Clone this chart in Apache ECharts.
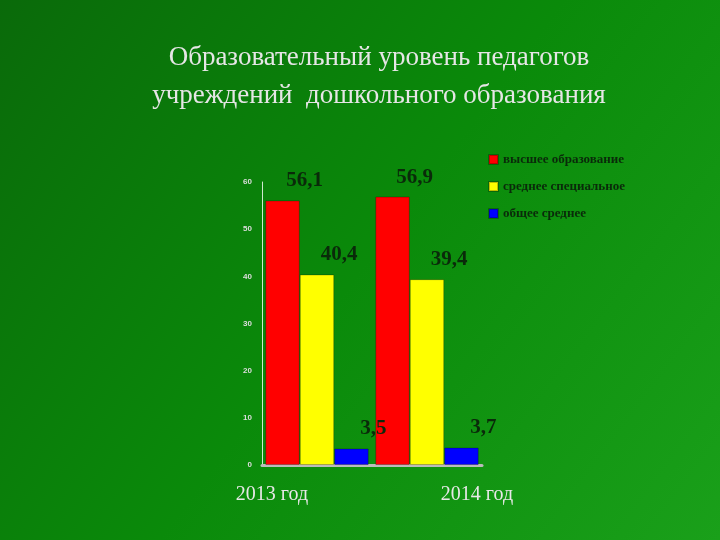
<!DOCTYPE html>
<html><head><meta charset="utf-8">
<script src="https://cdn.jsdelivr.net/npm/echarts@6/dist/echarts.min.js"></script>
<style>html,body{margin:0;padding:0;}#c{width:720px;height:540px;}</style>
</head><body><div id="c"></div>
<script>
const categories = ['2013 год', '2014 год'];
const higher = [56.1, 56.9];
const specialSecondary = [40.4, 39.4];
const generalSecondary = [3.5, 3.7];
const seriesNames = ['высшее образование', 'среднее специальное', 'общее среднее'];
const colors = ['#ff0000', '#ffff00', '#0000ff'];
const yTicks = [0, 10, 20, 30, 40, 50, 60];

const chart = echarts.init(document.getElementById('c'));
const fmt = p => String(p.value).replace('.', ',');
function mk(name, data, color) {
  return {
    name, type: 'bar', data, barGap: '0%', barCategoryGap: '6%',
    itemStyle: { color, borderColor: 'rgba(0,0,0,0.25)', borderWidth: 1 },
    label: { show: true, position: 'top', offset: [22, -4], formatter: fmt,
      fontFamily: 'Liberation Serif', fontWeight: 'bold', fontSize: 21, color: '#0a2a0a' }
  };
}
chart.setOption({
  backgroundColor: new echarts.graphic.LinearGradient(0, 0, 1, 1, [
    { offset: 0, color: '#0a6a0a' }, { offset: 0.5, color: '#0a8a0a' }, { offset: 1, color: '#1aa01a' }]),
  color: colors,
  title: {
    text: 'Образовательный уровень педагогов\nучреждений  дошкольного образования',
    left: 374, top: 34, textAlign: 'center',
    textStyle: { fontFamily: 'Liberation Serif', fontSize: 27, fontWeight: 'normal', color: '#e6e6e6', lineHeight: 38 }
  },
  legend: {
    orient: 'vertical', left: 483, top: 148, itemGap: 14, itemWidth: 9, itemHeight: 9,
    icon: 'rect', data: seriesNames,
    textStyle: { fontFamily: 'Liberation Serif', fontWeight: 'bold', fontSize: 13, color: '#0a2a0a' }
  },
  grid: { left: 262, right: 238, top: 182, bottom: 75, containLabel: false },
  xAxis: {
    type: 'category', data: categories,
    axisLine: { lineStyle: { color: '#bbbbbb', width: 3 } }, axisTick: { show: false },
    axisLabel: { interval: 0, hideOverlap: false, margin: 20, fontFamily: 'Liberation Serif', fontSize: 20, color: '#e8e8e8',
      formatter: (v, i) => i === 0 ? '{a|' + v + '}' : '{b|' + v + '}',
      rich: { a: { padding: [0, 90, 0, 0], fontFamily: 'Liberation Serif', fontSize: 20, color: '#e8e8e8' },
              b: { padding: [0, 0, 0, 100], fontFamily: 'Liberation Serif', fontSize: 20, color: '#e8e8e8' } } }
  },
  yAxis: {
    type: 'value', min: 0, max: 60, interval: 10,
    axisLine: { show: true, lineStyle: { color: '#cfe8cf' } }, axisTick: { show: false },
    splitLine: { show: false },
    axisLabel: { fontSize: 8, fontWeight: 'bold', color: '#dddddd', margin: 10,
      formatter: v => yTicks.includes(v) ? String(v) : '' }
  },
  series: [
    mk(seriesNames[0], higher, colors[0]),
    mk(seriesNames[1], specialSecondary, colors[1]),
    mk(seriesNames[2], generalSecondary, colors[2])
  ]
});
</script></body></html>
